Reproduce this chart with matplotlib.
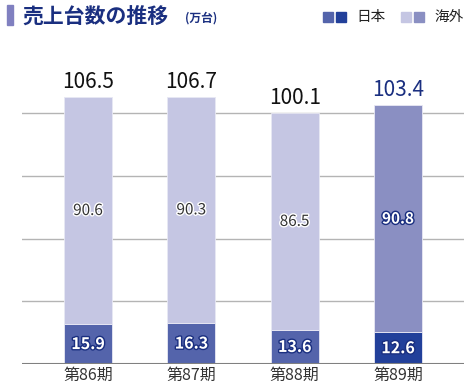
import numpy as np
import matplotlib.pyplot as plt
import matplotlib.patheffects as pe
from matplotlib.patches import Rectangle

plt.rcParams['font.family'] = ['Noto Sans CJK JP', 'DejaVu Sans']

# data (万台)
periods = ['第86期', '第87期', '第88期', '第89期']
japan = [15.9, 16.3, 13.6, 12.6]
overseas = [90.6, 90.3, 86.5, 90.8]
totals = [106.5, 106.7, 100.1, 103.4]

jp_colors = ['#5464ab', '#5464ab', '#5464ab', '#22409a']
os_colors = ['#c5c6e3', '#c5c6e3', '#c5c6e3', '#8a8fc2']
navy = '#1a2f80'

fig = plt.figure(figsize=(4.68, 3.9), dpi=100)
ax = fig.add_axes([22 / 468, 26 / 390, 442 / 468, 301 / 390])

x = np.arange(len(periods))
w = 0.465
ax.bar(x, japan, w, color=jp_colors, edgecolor='#e8e8f4', linewidth=0.6, zorder=3)
ax.bar(x, overseas, w, bottom=japan, color=os_colors, edgecolor='#e8e8f4',
       linewidth=0.6, zorder=3)

ax.set_xlim(-0.639, 3.639)
ax.set_ylim(0, 120)
for gy in [25, 50, 75, 100]:
    ax.axhline(gy, color='#b4b4b4', linewidth=1, zorder=1)
ax.axhline(0, color='#808080', linewidth=1.5, zorder=4)

for s in ax.spines.values():
    s.set_visible(False)
ax.set_yticks([])
ax.set_xticks(x)
ax.set_xticklabels(periods, fontsize=11.5, color='#333333')
ax.tick_params(axis='x', length=0, pad=2)

for i in range(len(periods)):
    # japan value: white with dark outline
    ax.text(x[i], japan[i] / 2, f'{japan[i]:.1f}', ha='center', va='center',
            fontsize=11.5, fontweight='bold', color='white', zorder=5,
            path_effects=[pe.withStroke(linewidth=2, foreground='#1a2f80')])
    # overseas value
    if i == 3:
        ax.text(x[i], japan[i] + overseas[i] / 2, f'{overseas[i]:.1f}', ha='center',
                va='center', fontsize=11, fontweight='bold', color='white', zorder=5,
                path_effects=[pe.withStroke(linewidth=2, foreground='#1a2f80')])
    else:
        ax.text(x[i], japan[i] + overseas[i] / 2, f'{overseas[i]:.1f}', ha='center',
                va='center', fontsize=11, color='#333333', zorder=5,
                path_effects=[pe.withStroke(linewidth=2, foreground='white')])
    ax.text(x[i], totals[i] + 1.5, f'{totals[i]:.1f}', ha='center', va='bottom',
            fontsize=15, color=navy if i == 3 else '#111111', zorder=5)

# title
fig.patches.append(Rectangle((7 / 468, 1 - 25 / 390), 6 / 468, 20 / 390,
                             transform=fig.transFigure, color='#8080c0'))
fig.text(22 / 468, 1 - 16 / 390, '売上台数の推移', fontsize=15, fontweight='bold',
         color=navy, va='center', ha='left')
fig.text(185 / 468, 1 - 18 / 390, '(万台)', fontsize=8.5, fontweight='bold',
         color=navy, va='center', ha='left')

# legend
def legend_sq(px, c):
    fig.patches.append(Rectangle((px / 468, 1 - 22 / 390), 10 / 468, 10 / 390,
                                 transform=fig.transFigure, color=c))

legend_sq(323, '#5464ab')
legend_sq(336, '#22409a')
fig.text(356 / 468, 1 - 17 / 390, '日本', fontsize=10.5, color='#222222', va='center')
legend_sq(401, '#c5c6e3')
legend_sq(414, '#8a8fc2')
fig.text(434 / 468, 1 - 17 / 390, '海外', fontsize=10.5, color='#222222', va='center')

fig.savefig('out.png', dpi=100)
